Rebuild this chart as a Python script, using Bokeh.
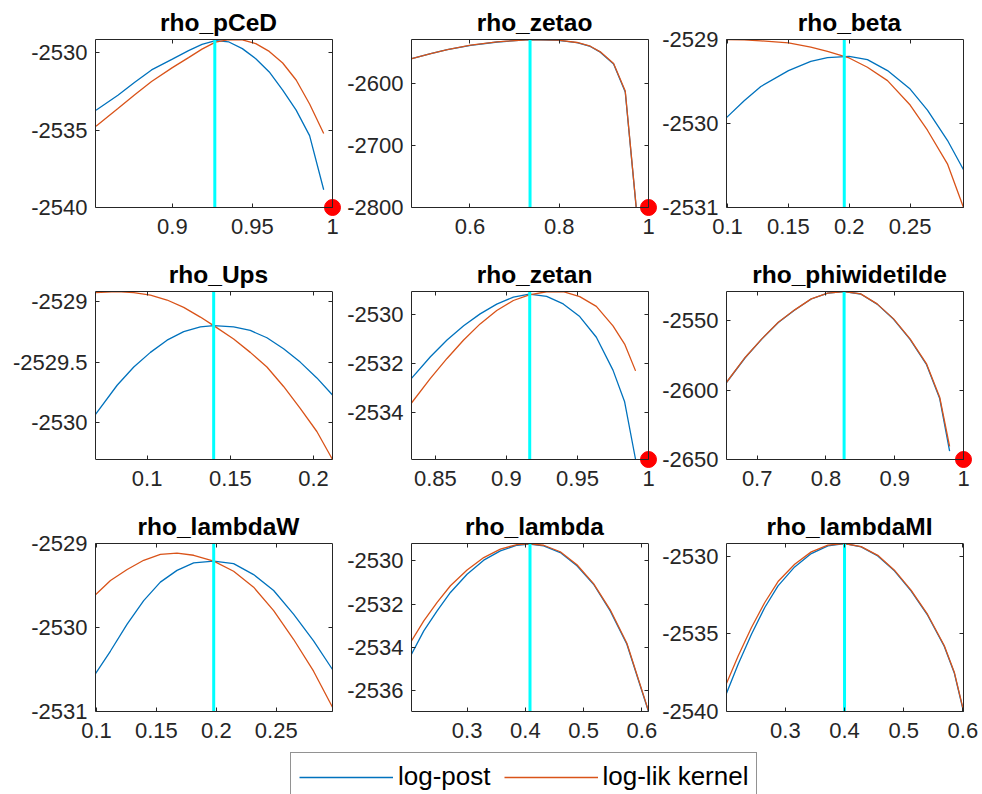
from bokeh.plotting import figure
from bokeh.layouts import column, row
from bokeh.models import (Range1d, FixedTicker, LinearAxis,
                          CustomJSTickFormatter, Legend, LegendItem)
from bokeh.embed import file_html
from bokeh.resources import INLINE

# ---------------- data ----------------
titles = ["rho_pCeD", "rho_zetao", "rho_beta",
          "rho_Ups", "rho_zetan", "rho_phiwidetilde",
          "rho_lambdaW", "rho_lambda", "rho_lambdaMI"]

# posterior modes (cyan lines)
modes = [0.9265, 0.7346, 0.1959, 0.140, 0.9164, 0.8264, 0.1978, 0.408, 0.400]

# parameters whose bound (=1) is marked with a red dot
bound_value = [1, 1, None, None, 1, 1, None, None, None]

pCeD_x = [0.8523, 0.8660, 0.8765, 0.8870, 0.9000, 0.9101, 0.9185, 0.9269,
          0.9353, 0.9437, 0.9521, 0.9605, 0.9689, 0.9773, 0.9857, 0.9945]
pCeD_post = [-2533.71, -2532.74, -2531.90, -2531.10, -2530.40, -2529.85, -2529.45, -2529.20,
             -2529.29, -2529.72, -2530.37, -2531.23, -2532.41, -2533.70, -2535.35, -2538.85]
pCeD_lik = [-2534.74, -2533.60, -2532.70, -2531.85, -2530.95, -2530.30, -2529.75, -2529.30,
            -2529.14, -2529.16, -2529.40, -2529.90, -2530.65, -2531.75, -2533.30, -2535.21]

zetao_x = [0.4696, 0.5121, 0.5493, 0.6015, 0.6611, 0.7333, 0.7974, 0.8398,
           0.8696, 0.8920, 0.9218, 0.9479, 0.9724]
zetao_post = [-2560.3, -2552.2, -2545.8, -2538.7, -2533.4, -2529.6, -2530.7, -2534.5,
              -2540.6, -2549.8, -2569.0, -2614.0, -2800.0]
zetao_lik = [-2560.1, -2552.0, -2545.6, -2538.5, -2533.2, -2529.4, -2530.5, -2534.2,
             -2540.2, -2549.3, -2568.2, -2612.4, -2799.0]

beta_x = [0.0992, 0.1137, 0.1274, 0.1501, 0.1684, 0.1821, 0.1999, 0.2149,
          0.2314, 0.2500, 0.2642, 0.2806, 0.2938]
beta_post = [-2529.93, -2529.73, -2529.56, -2529.37, -2529.26, -2529.215, -2529.20, -2529.24,
             -2529.37, -2529.59, -2529.84, -2530.20, -2530.55]
beta_lik = [-2529.00, -2529.005, -2529.016, -2529.04, -2529.09, -2529.14, -2529.22, -2529.33,
            -2529.49, -2529.78, -2530.08, -2530.48, -2531.00]

Ups_x = [0.069, 0.082, 0.092, 0.102, 0.112, 0.122, 0.132, 0.140,
         0.152, 0.162, 0.172, 0.182, 0.192, 0.202, 0.2114]
Ups_post = [-2529.93, -2529.69, -2529.54, -2529.42, -2529.32, -2529.25, -2529.21, -2529.20,
            -2529.21, -2529.24, -2529.30, -2529.39, -2529.50, -2529.63, -2529.77]
Ups_lik = [-2528.93, -2528.92, -2528.93, -2528.95, -2528.99, -2529.05, -2529.13, -2529.20,
           -2529.31, -2529.42, -2529.54, -2529.70, -2529.88, -2530.07, -2530.30]

zetan_x = [0.8332, 0.8465, 0.8582, 0.8699, 0.8815, 0.8932, 0.9049, 0.9161,
           0.9283, 0.9400, 0.9516, 0.9633, 0.9750, 0.9832, 0.9909]
zetan_post = [-2532.61, -2531.72, -2531.03, -2530.45, -2529.96, -2529.56, -2529.27, -2529.15,
              -2529.24, -2529.55, -2530.07, -2530.92, -2532.27, -2533.57, -2535.94]
zetan_lik = [-2533.62, -2532.61, -2531.79, -2531.03, -2530.37, -2529.82, -2529.41, -2529.18,
             -2529.05, -2529.05, -2529.25, -2529.65, -2530.45, -2531.20, -2532.30]

phiw_x = [0.6554, 0.6828, 0.7067, 0.7307, 0.7546, 0.7786, 0.8025, 0.8265,
          0.8505, 0.8744, 0.8984, 0.9223, 0.9463, 0.9654, 0.9798]
phiw_post = [-2594.6, -2576.6, -2563.4, -2551.4, -2542.4, -2534.5, -2530.3, -2529.1,
             -2530.9, -2538.2, -2549.1, -2563.6, -2581.8, -2606.2, -2644.0]
phiw_lik = [-2594.4, -2576.4, -2563.2, -2551.2, -2542.3, -2534.4, -2530.3, -2529.1,
            -2530.8, -2538.0, -2548.8, -2563.2, -2581.2, -2605.2, -2640.5]

lambdaW_x = [0.0992, 0.1117, 0.1256, 0.1394, 0.1533, 0.1672, 0.1811, 0.1978,
             0.2144, 0.2311, 0.2478, 0.2644, 0.2811, 0.2969]
lambdaW_post = [-2530.55, -2530.28, -2529.96, -2529.68, -2529.46, -2529.32, -2529.23, -2529.21,
                -2529.24, -2529.37, -2529.56, -2529.84, -2530.16, -2530.50]
lambdaW_lik = [-2529.61, -2529.44, -2529.31, -2529.20, -2529.13, -2529.115, -2529.14, -2529.21,
               -2529.33, -2529.52, -2529.80, -2530.14, -2530.52, -2530.95]

lambda_x = [0.2046, 0.2257, 0.2486, 0.2714, 0.3000, 0.3286, 0.3571, 0.3857,
            0.4069, 0.4314, 0.4600, 0.4886, 0.5171, 0.5457, 0.5743, 0.6114]
lambda_post = [-2534.31, -2533.23, -2532.31, -2531.46, -2530.62, -2529.97, -2529.54, -2529.28,
               -2529.23, -2529.31, -2529.62, -2530.23, -2531.08, -2532.31, -2533.85, -2536.95]
lambda_lik = [-2533.69, -2532.77, -2531.92, -2531.15, -2530.42, -2529.85, -2529.46, -2529.25,
              -2529.22, -2529.28, -2529.58, -2530.18, -2531.05, -2532.26, -2533.80, -2536.92]

lambdaMI_x = [0.2006, 0.2202, 0.2427, 0.2652, 0.2876, 0.3157, 0.3438, 0.3719, 0.4000,
              0.4281, 0.4562, 0.4843, 0.5124, 0.5404, 0.5685, 0.5854, 0.6011]
lambdaMI_post = [-2538.82, -2536.95, -2535.02, -2533.30, -2531.91, -2530.69, -2529.83, -2529.33,
                 -2529.18, -2529.40, -2529.98, -2530.94, -2532.23, -2533.80, -2535.80, -2537.50,
                 -2540.00]
lambdaMI_lik = [-2538.18, -2536.42, -2534.59, -2532.98, -2531.63, -2530.52, -2529.72, -2529.29,
                -2529.18, -2529.38, -2529.94, -2530.90, -2532.18, -2533.75, -2535.75, -2537.45,
                -2539.95]

xs = [pCeD_x, zetao_x, beta_x, Ups_x, zetan_x, phiw_x, lambdaW_x, lambda_x, lambdaMI_x]
posts = [pCeD_post, zetao_post, beta_post, Ups_post, zetan_post, phiw_post,
         lambdaW_post, lambda_post, lambdaMI_post]
liks = [pCeD_lik, zetao_lik, beta_lik, Ups_lik, zetan_lik, phiw_lik,
        lambdaW_lik, lambda_lik, lambdaMI_lik]

# axis limits
xlims = [(0.852, 1.0), (0.469, 1.0), (0.0992, 0.2938),
         (0.069, 0.2114), (0.8332, 1.0), (0.6554, 1.0),
         (0.0992, 0.2969), (0.2046, 0.6114), (0.2005, 0.6011)]
ylims = [(-2540, -2529.13), (-2800, -2529.4), (-2531, -2529),
         (-2530.3, -2528.92), (-2535.94, -2529.04), (-2650, -2529.1),
         (-2531, -2529), (-2536.95, -2529.2), (-2540, -2529.18)]

# tick values
xticks = [[0.9, 0.95, 1], [0.6, 0.8, 1], [0.1, 0.15, 0.2, 0.25],
          [0.1, 0.15, 0.2], [0.85, 0.9, 0.95, 1], [0.7, 0.8, 0.9, 1],
          [0.1, 0.15, 0.2, 0.25], [0.3, 0.4, 0.5, 0.6], [0.3, 0.4, 0.5, 0.6]]
yticks = [[-2540, -2535, -2530], [-2800, -2700, -2600], [-2531, -2530, -2529],
          [-2530, -2529.5, -2529], [-2534, -2532, -2530], [-2650, -2600, -2550],
          [-2531, -2530, -2529], [-2536, -2534, -2532, -2530], [-2540, -2535, -2530]]

legend_labels = ["log-post", "log-lik kernel"]

# ---------------- styling ----------------
FONT = "Liberation Sans"
BLUE = "#0072BD"
ORANGE = "#D95319"
CYAN = "#00FFFF"
AXC = "#262626"
BOX_W, BOX_H = 237, 168
col_borders = [(95, 10), (69, 10), (68, 19)]
row_borders = [(39, 45), (39, 45), (39, 40)]
DOT_SIZE = 16
PAD = 9   # extra room (px) right/below each box so the bound markers are not cut

fmt_code = "return String(parseFloat(tick.toFixed(4)));"


def style_axis(ax, so, labels=True, line=True):
    ax.major_tick_in = 4 if line else 0
    ax.major_tick_out = 0
    ax.minor_tick_line_color = None
    ax.axis_line_color = AXC if line else None
    ax.axis_line_width = 1
    ax.major_tick_line_color = AXC if line else None
    if labels:
        ax.formatter = CustomJSTickFormatter(code=fmt_code)
        ax.major_label_text_font = FONT
        ax.major_label_text_font_size = "22px"
        ax.major_label_text_color = AXC
        ax.major_label_standoff = so
    else:
        ax.formatter = CustomJSTickFormatter(code="return '';")
        ax.major_label_text_font_size = "1px"
        ax.major_label_standoff = 0


def make_panel(i):
    r, c = divmod(i, 3)
    lb, rb = col_borders[c]
    tb, bb = row_borders[r]
    x0, x1 = xlims[i]
    y0, y1 = ylims[i]
    padx = PAD * (x1 - x0) / BOX_W
    pady = PAD * (y1 - y0) / BOX_H
    p = figure(width=lb + BOX_W + rb, height=tb + BOX_H + bb,
               x_range=Range1d(x0, x1 + padx), y_range=Range1d(y0 - pady, y1),
               min_border_left=lb, min_border_right=rb - PAD,
               min_border_top=tb, min_border_bottom=bb - PAD,
               output_backend="svg", toolbar_location=None)
    p.grid.visible = False
    p.outline_line_color = None
    p.background_fill_color = "white"
    p.border_fill_color = "white"

    # bottom: tick labels (panel edge) + box edge at the lower limit
    xa = p.xaxis[0]
    xa.ticker = FixedTicker(ticks=xticks[i], minor_ticks=[])
    xa.bounds = (x0, x1)
    style_axis(xa, 11 - PAD, line=False)
    ba = LinearAxis(ticker=FixedTicker(ticks=xticks[i], minor_ticks=[]), bounds=(x0, x1),
                    fixed_location=y0)
    style_axis(ba, 0, labels=False)
    p.add_layout(ba, "below")

    ya = p.yaxis[0]
    ya.ticker = FixedTicker(ticks=yticks[i], minor_ticks=[])
    ya.bounds = (y0, y1)
    style_axis(ya, 8)

    # top edge, carrying the panel title centred on the box
    ta = LinearAxis(ticker=FixedTicker(ticks=xticks[i], minor_ticks=[]), bounds=(x0, x1),
                    axis_label=titles[i], axis_label_standoff=4,
                    axis_label_text_font=FONT, axis_label_text_font_size="24.5px",
                    axis_label_text_font_style="bold", axis_label_text_color="black")
    style_axis(ta, 0, labels=False)
    p.add_layout(ta, "above")

    ra = LinearAxis(ticker=FixedTicker(ticks=yticks[i], minor_ticks=[]), bounds=(y0, y1),
                    fixed_location=x1)
    style_axis(ra, 0, labels=False)
    p.add_layout(ra, "right")

    p.line(xs[i], posts[i], line_color=BLUE, line_width=1.3)
    p.line(xs[i], liks[i], line_color=ORANGE, line_width=1.3)
    p.segment(x0=[modes[i]], y0=[y0], x1=[modes[i]], y1=[y1], line_color=CYAN, line_width=3)

    if bound_value[i] is not None:
        p.scatter(x=[bound_value[i]], y=[y0], size=DOT_SIZE, marker="circle",
                  fill_color="red", line_color="red")
    return p


panels = [make_panel(i) for i in range(9)]

# legend strip (box runs past the bottom of the page, as in the reference)
LEG_H = 43
leg = figure(width=982, height=LEG_H, x_range=Range1d(0, 1), y_range=Range1d(0, 1),
             x_axis_location=None, y_axis_location=None,
             min_border_left=0, min_border_right=0, min_border_top=0, min_border_bottom=0,
             output_backend="svg", toolbar_location=None)
leg.grid.visible = False
leg.outline_line_color = None
r1 = leg.line(x=[-2, -1], y=[-2, -1], line_color=BLUE, line_width=1.3)
r2 = leg.line(x=[-2, -1], y=[-2, -1], line_color=ORANGE, line_width=1.3)
legend = Legend(items=[LegendItem(label=legend_labels[0], renderers=[r1]),
                       LegendItem(label=legend_labels[1], renderers=[r2])],
                orientation="horizontal", location=(290, -7),
                glyph_width=94, glyph_height=20, label_standoff=5, spacing=13, padding=8,
                label_text_font=FONT, label_text_font_size="26px", label_text_color="black",
                border_line_color=AXC, border_line_width=1, background_fill_alpha=1.0,
                margin=0)
leg.add_layout(legend)

layout = column(row(*panels[0:3]), row(*panels[3:6]), row(*panels[6:9]), leg)

open("out.html", "w").write(file_html(layout, INLINE))
